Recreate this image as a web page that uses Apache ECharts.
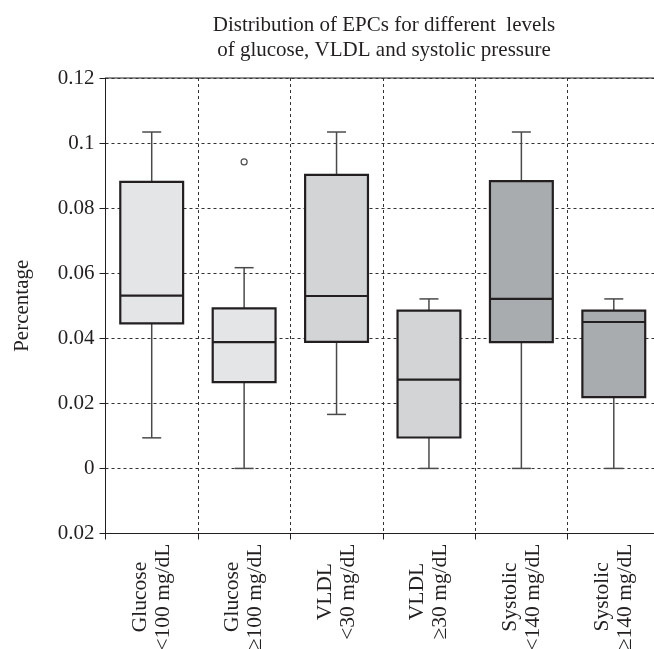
<!DOCTYPE html>
<html>
<head>
<meta charset="utf-8">
<script src="https://cdn.jsdelivr.net/npm/echarts@6/dist/echarts.min.js"></script>
<style>
html,body{margin:0;padding:0;background:#fff;overflow:hidden;width:654px;height:649px;}
#c{width:660px;height:649px;}
</style>
</head>
<body>
<div id="c"></div>
<script>
// ---- data ----
var categories = ['Glucose\n<100 mg/dL', 'Glucose\n\u2265100 mg/dL', 'VLDL\n<30 mg/dL', 'VLDL\n\u226530 mg/dL', 'Systolic\n<140 mg/dL', 'Systolic\n\u2265140 mg/dL'];
var lowWhisker = [0.0094, 0.0000, 0.0166, 0.0000, 0.0000, 0.0000];
var q1Values   = [0.0446, 0.0265, 0.0389, 0.0095, 0.0388, 0.0219];
var medians    = [0.0531, 0.0388, 0.0530, 0.0273, 0.0521, 0.0450];
var q3Values   = [0.0881, 0.0492, 0.0902, 0.0485, 0.0883, 0.0485];
var highWhisker= [0.1034, 0.0617, 0.1034, 0.0521, 0.1034, 0.0521];
var outliers   = [[1, 0.0942]];
var yTickLabels = ['0.02', '0', '0.02', '0.04', '0.06', '0.08', '0.1', '0.12'];
var boxFills = ['#e4e5e7', '#e4e5e7', '#d3d4d6', '#d3d4d6', '#a9acae', '#a9acae'];

var boxData = categories.map(function (c, i) {
  return [i, lowWhisker[i], q1Values[i], medians[i], q3Values[i], highWhisker[i]];
});

var FONT = '"Liberation Serif", "Times New Roman", serif';
var TXT = '#231f20';

function renderBox(params, api) {
  var i = api.value(0);
  var band = api.size([1, 0])[0];
  var boxW = band * 0.68;
  var capW = 19;
  var x = api.coord([i, 0])[0];
  var yl = api.coord([i, api.value(1)])[1];
  var y1 = api.coord([i, api.value(2)])[1];
  var ym = api.coord([i, api.value(3)])[1];
  var y3 = api.coord([i, api.value(4)])[1];
  var yh = api.coord([i, api.value(5)])[1];
  var wStyle = {stroke: '#4a4a4a', lineWidth: 1.5};
  var bStyle = {stroke: '#231f20', lineWidth: 2.2};
  return {
    type: 'group',
    children: [
      {type: 'line', shape: {x1: x, y1: yl, x2: x, y2: y1}, style: wStyle},
      {type: 'line', shape: {x1: x, y1: y3, x2: x, y2: yh}, style: wStyle},
      {type: 'line', shape: {x1: x - capW / 2, y1: yl, x2: x + capW / 2, y2: yl}, style: wStyle},
      {type: 'line', shape: {x1: x - capW / 2, y1: yh, x2: x + capW / 2, y2: yh}, style: wStyle},
      {type: 'rect', shape: {x: x - boxW / 2, y: y3, width: boxW, height: y1 - y3},
        style: {fill: boxFills[i], stroke: '#231f20', lineWidth: 2.2}},
      {type: 'line', shape: {x1: x - boxW / 2, y1: ym, x2: x + boxW / 2, y2: ym}, style: bStyle}
    ]
  };
}

var chart = echarts.init(document.getElementById('c'), null, {renderer: 'canvas'});
chart.setOption({
  animation: false,
  backgroundColor: '#fff',
  title: {
    text: 'Distribution of EPCs for different  levels\nof glucose, VLDL and systolic pressure',
    left: 379, top: 8, textAlign: 'center',
    textStyle: {fontFamily: FONT, fontSize: 21, fontWeight: 'normal', color: TXT, lineHeight: 25}
  },
  grid: {left: 105.5, top: 78, right: 0, bottom: 115.5, outerBoundsMode: 'none', containLabel: false,
    show: true, borderColor: '#231f20', borderWidth: 1},
  xAxis: {
    type: 'category',
    data: categories,
    boundaryGap: true,
    axisLine: {show: true, onZero: false, lineStyle: {color: '#231f20', width: 1}},
    axisTick: {show: true, length: 6, alignWithLabel: false, lineStyle: {color: '#231f20'}},
    splitLine: {show: true, lineStyle: {color: '#333', type: [3, 3], width: 1}},
    axisLabel: {
      rotate: 90, margin: 10, interval: 0,
      fontFamily: FONT, fontSize: 21.5, color: TXT, lineHeight: 23,
      formatter: function (v) {
        return v.split('\n').map(function (s) { return '{a|' + s + '}'; }).join('\n');
      },
      rich: {a: {align: 'center', fontFamily: FONT, fontSize: 21.5, color: TXT, lineHeight: 23}}
    }
  },
  yAxis: {
    type: 'value',
    min: -0.02, max: 0.12, interval: 0.02,
    name: 'Percentage',
    nameLocation: 'middle',
    nameGap: 73,
    nameTextStyle: {fontFamily: FONT, fontSize: 21, color: TXT},
    axisLine: {show: true, lineStyle: {color: '#231f20', width: 1}},
    axisTick: {show: true, length: 6, lineStyle: {color: '#231f20'}},
    splitLine: {show: true, lineStyle: {color: '#333', type: [3, 3], width: 1}},
    axisLabel: {
      margin: 11,
      fontFamily: FONT, fontSize: 21, color: TXT,
      formatter: function (v) {
        var k = Math.round((v + 0.02) / 0.02);
        return yTickLabels[k];
      }
    }
  },
  series: [
    {
      type: 'custom',
      renderItem: renderBox,
      encode: {x: 0, y: [1, 2, 3, 4, 5]},
      data: boxData,
      z: 3
    },
    {
      type: 'scatter',
      data: outliers,
      symbol: 'circle',
      symbolSize: 6,
      itemStyle: {color: '#fff', borderColor: '#231f20', borderWidth: 1.2},
      z: 4
    }
  ]
});
</script>
</body>
</html>
